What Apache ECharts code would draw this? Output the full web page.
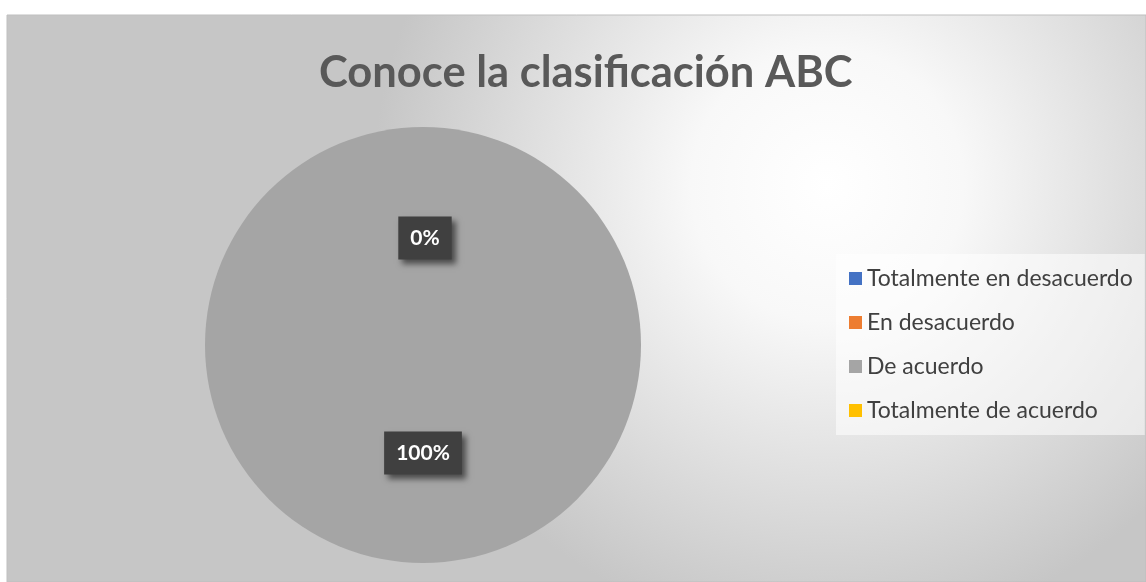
<!DOCTYPE html>
<html>
<head>
<meta charset="utf-8">
<script src="https://cdn.jsdelivr.net/npm/echarts@6/dist/echarts.min.js"></script>
<style>
  html, body { margin: 0; padding: 0; background: #fff; }
  #chart { width: 1146px; height: 582px; }
</style>
</head>
<body>
<div id="chart"></div>
<script>
const title = 'Conoce la clasificación ABC';
const categories = ['Totalmente en desacuerdo', 'En desacuerdo', 'De acuerdo', 'Totalmente de acuerdo'];
const values = [0, 0, 20, 0];
const colors = ['#4472C4', '#ED7D31', '#A5A5A5', '#FFC000'];

const chart = echarts.init(document.getElementById('chart'));

chart.setOption({
  animation: false,
  color: colors,
  graphic: [
    {
      type: 'rect',
      z: -10,
      shape: { x: 7, y: 15, width: 1139, height: 567 },
      style: {
        fill: {
          type: 'radial', x: 0.72, y: 0.3, r: 0.8,
          colorStops: [
            { offset: 0, color: '#ffffff' },
            { offset: 0.3, color: '#f8f8f8' },
            { offset: 1, color: '#c6c6c6' }
          ]
        },
        stroke: '#bfbfbf',
        lineWidth: 1
      }
    }
  ],
  title: {
    text: title,
    left: 314,
    top: 46,
    textStyle: {
      fontFamily: 'Lato',
      fontSize: 43.5,
      fontWeight: 'bold',
      color: '#595959'
    }
  },
  legend: {
    orient: 'vertical',
    left: 836,
    top: 254,
    icon: 'rect',
    itemWidth: 13,
    itemHeight: 13,
    itemGap: 21,
    padding: [13, 12, 13, 13],
    backgroundColor: 'rgba(255,255,255,0.55)',
    data: categories,
    textStyle: {
      fontFamily: 'Lato',
      fontSize: 23,
      lineHeight: 20,
      color: '#404040'
    }
  },
  series: [
    {
      type: 'pie',
      center: [423, 345],
      radius: 218,
      startAngle: 90,
      clockwise: true,
      avoidLabelOverlap: false,
      data: categories.map((c, i) => ({
        name: c,
        value: values[i],
        label: { offset: values[i] === 0 ? [2, 5] : [0, -4] }
      })),
      label: {
        show: true,
        position: 'inside',
        formatter: p => Math.round(p.percent) + '%',
        fontFamily: 'Lato',
        fontSize: 21,
        fontWeight: 'bold',
        lineHeight: 21,
        color: '#ffffff',
        backgroundColor: '#404040',
        padding: [11, 12, 11, 12],
        shadowColor: 'rgba(0,0,0,0.55)',
        shadowBlur: 6,
        shadowOffsetX: 4,
        shadowOffsetY: 4
      },
      labelLine: { show: false },
      emphasis: { disabled: true }
    }
  ]
});
</script>
</body>
</html>
